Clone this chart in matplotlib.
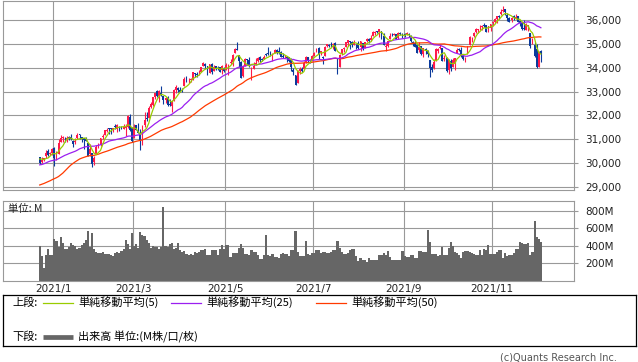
import numpy as np
import pandas as pd
import matplotlib
matplotlib.use("Agg")
import matplotlib.pyplot as plt
from matplotlib.ticker import FuncFormatter

# ---- data (DJIA Dec 2020 - Dec 2021) ----
holidays = ["2020-12-25", "2021-01-01", "2021-01-18", "2021-02-15", "2021-04-02",
            "2021-05-31", "2021-07-05", "2021-09-06", "2021-11-25"]

# closes before the first candle, only used to warm up the moving averages
warmup_close = [28680, 28515, 28494, 28606, 28195, 28309, 28211, 28364, 28336, 27685,
                27463, 26520, 26660, 26502, 26925, 27481, 27848, 28390, 28323, 29158,
                29421, 29398, 29080, 29480, 29950, 29784, 29438, 29483, 29263, 29591,
                30046, 29873, 29910, 29638, 29824, 29883, 29970, 30218, 30070, 30174,
                30068, 29999, 30046, 29861, 30200, 30155, 30304, 30179, 30216]

open_ = [30240, 30050, 30150, 30280, 30490, 30380, 30420, 30630, 30200, 30390,
         30900, 31070, 31010, 31020, 31080, 31090, 30920, 30880, 31060, 31220,
         31100, 31060, 31000, 30860, 30400, 30430, 30050, 30380, 30710, 30780,
         31080, 31180, 31330, 31460, 31480, 31390, 31540, 31440, 31510, 31530,
         31450, 31460, 31510, 31920, 31470, 31070, 31580, 31390, 31250, 31000,
         31580, 31900, 31910, 32350, 32450, 32760, 33030, 32830, 32930, 32800,
         32650, 32720, 32480, 32390, 32660, 33080, 33140, 33080, 33070, 33220,
         33530, 33440, 33500, 33500, 33750, 33750, 33720, 33820, 34080, 34150,
         34060, 33790, 34140, 33860, 34060, 34000, 34010, 33900, 33970, 33900,
         34100, 34200, 34220, 34610, 34780, 34540, 34250, 33640, 34070, 34360,
         34340, 33800, 33960, 34140, 34280, 34440, 34370, 34370, 34560, 34610,
         34620, 34550, 34620, 34760, 34700, 34640, 34510, 34480, 34460, 34440,
         34310, 33910, 33700, 33360, 33860, 33960, 33960, 34220, 34450, 34320,
         34270, 34510, 34690, 34820, 34600, 34440, 34510, 34900, 34960, 34940,
         34960, 35030, 34400, 34030, 34560, 34800, 34880, 35050, 35140, 35080,
         34970, 34950, 35030, 34860, 35050, 34840, 35100, 35220, 35150, 35320,
         35450, 35520, 35490, 35520, 35340, 34860, 34890, 35190, 35370, 35390,
         35400, 35260, 35470, 35400, 35410, 35360, 35410, 35340, 35090, 35050,
         34950, 34730, 34900, 34590, 34800, 34710, 34320, 34050, 33980, 34300,
         34700, 34820, 34820, 34370, 34420, 33890, 34270, 34010, 34160, 34600,
         34770, 34740, 34500, 34350, 34560, 34970, 35240, 35310, 35480, 35560,
         35660, 35700, 35790, 35790, 35570, 35680, 35860, 35910, 36050, 36180,
         36260, 36380, 36460, 36200, 36090, 35980, 36150, 36080, 36160, 35940,
         35880, 35670, 35600, 35760, 35450, 35100, 34950, 34770, 34030, 34700]

high = [30240, 30240, 30210, 30530, 30600, 30480, 30640, 30670, 30500, 31020,
        31190, 31140, 31100, 31150, 31150, 31220, 30990, 31040, 31270, 31230,
        31100, 31060, 31110, 30860, 30820, 30430, 30300, 30740, 30850, 31060,
        31210, 31390, 31470, 31460, 31480, 31460, 31640, 31620, 31550, 31570,
        31650, 31640, 32010, 32040, 31520, 31630, 31600, 31700, 31450, 31590,
        32150, 32150, 32390, 32560, 32790, 32960, 33050, 33050, 33230, 32800,
        32770, 32800, 32700, 32640, 33100, 33260, 33190, 33180, 33170, 33620,
        33640, 33550, 33560, 33810, 33790, 33810, 33910, 34050, 34260, 34180,
        34080, 34170, 34210, 34130, 34090, 34070, 34030, 34100, 34040, 34200,
        34140, 34380, 34570, 34810, 35090, 34550, 34280, 34110, 34400, 34380,
        34460, 34020, 34250, 34400, 34450, 34470, 34420, 34520, 34630, 34850,
        34690, 34600, 34800, 34770, 34850, 34690, 34610, 34550, 34470, 34450,
        34400, 34000, 33700, 33900, 34050, 34010, 34270, 34480, 34460, 34380,
        34530, 34660, 34810, 34850, 34720, 34480, 34890, 35000, 35000, 35060,
        35020, 35090, 34400, 34590, 34800, 34880, 35080, 35150, 35140, 35100,
        35170, 35000, 35100, 35130, 35050, 35070, 35250, 35240, 35390, 35520,
        35520, 35550, 35630, 35520, 35440, 35020, 35140, 35450, 35440, 35440,
        35410, 35510, 35500, 35440, 35450, 35510, 35440, 35360, 35120, 35140,
        35000, 35090, 34930, 34830, 34810, 34730, 34320, 34170, 34360, 34820,
        34820, 35010, 34820, 34540, 34440, 34380, 34380, 34420, 34420, 34840,
        34840, 34860, 34590, 34450, 34930, 35310, 35290, 35500, 35670, 35640,
        35770, 35800, 35890, 35800, 35740, 35820, 35950, 36070, 36170, 36220,
        36470, 36570, 36460, 36300, 36110, 36120, 36190, 36260, 36160, 35990,
        35910, 35980, 35870, 35810, 35450, 35250, 35060, 35000, 34700, 34750]

low = [29950, 30020, 30110, 30230, 30290, 30330, 30360, 29880, 30140, 30390,
       30870, 30900, 30900, 30870, 30990, 30990, 30690, 30810, 31000, 31030,
       30870, 30600, 30910, 30280, 30320, 29850, 29930, 30380, 30630, 30730,
       31030, 31160, 31310, 31240, 31230, 31290, 31440, 31300, 31340, 31420,
       31420, 31130, 31480, 31350, 30870, 31070, 31370, 31260, 30550, 30780,
       31530, 31780, 31900, 32300, 32400, 32670, 32770, 32580, 32800, 32480,
       32530, 32400, 32400, 32160, 32600, 32950, 32990, 32970, 32990, 33220,
       33400, 33370, 33380, 33480, 33600, 33590, 33710, 33820, 34060, 33950,
       33680, 33780, 33750, 33860, 33900, 33920, 33800, 33720, 33810, 33890,
       33700, 34150, 34080, 34600, 34730, 34050, 33580, 33610, 34060, 34130,
       34030, 33470, 33940, 34130, 34250, 34230, 34280, 34360, 34510, 34540,
       34500, 34300, 34620, 34560, 34560, 34440, 34400, 34400, 34220, 34230,
       33880, 33690, 33270, 33360, 33730, 33820, 33960, 34210, 34240, 34210,
       34270, 34510, 34640, 34350, 34550, 34150, 34510, 34860, 34850, 34860,
       34790, 34680, 33740, 34010, 34520, 34650, 34870, 34900, 34800, 34850,
       34970, 34800, 34800, 34700, 34760, 34810, 35080, 35040, 35120, 35310,
       35390, 35470, 35300, 35200, 34960, 34690, 34870, 35190, 35310, 35350,
       35200, 35220, 35370, 35260, 35290, 35350, 35300, 35070, 34900, 34870,
       34600, 34650, 34540, 34460, 34590, 34440, 33610, 33840, 33940, 34300,
       34630, 34790, 34270, 34300, 33840, 33720, 33880, 34010, 33900, 34600,
       34720, 34460, 34330, 34240, 34560, 34970, 35090, 35270, 35470, 35450,
       35580, 35580, 35700, 35490, 35500, 35540, 35760, 35890, 35880, 36040,
       36190, 36340, 36210, 35960, 35920, 35900, 36000, 36050, 35920, 35750,
       35570, 35600, 35580, 35530, 34820, 35000, 34460, 33990, 34010, 34230]

close = [30015, 30129, 30200, 30404, 30336, 30409, 30606, 30223, 30392, 30829,
         31041, 31098, 31009, 31069, 31061, 30991, 30814, 30930, 31188, 31176,
         30997, 30960, 30937, 30303, 30603, 29983, 30212, 30688, 30724, 31056,
         31148, 31386, 31375, 31438, 31431, 31458, 31523, 31613, 31494, 31494,
         31522, 31537, 31962, 31402, 30932, 31535, 31391, 31270, 30924, 31496,
         31802, 31833, 32297, 32485, 32779, 32953, 32826, 33015, 32862, 32628,
         32731, 32423, 32420, 32619, 33072, 33171, 33067, 32982, 33054, 33527,
         33430, 33446, 33504, 33801, 33746, 33677, 33730, 34036, 34200, 34078,
         33821, 34137, 33815, 34043, 33982, 33985, 33820, 34060, 33875, 34113,
         34133, 34230, 34548, 34778, 34743, 34270, 33587, 34021, 34382, 34327,
         34061, 33896, 34084, 34208, 34394, 34313, 34323, 34465, 34529, 34575,
         34600, 34577, 34756, 34630, 34600, 34447, 34467, 34480, 34394, 34299,
         34033, 33823, 33290, 33877, 33945, 33874, 34196, 34433, 34283, 34292,
         34503, 34634, 34786, 34577, 34681, 34422, 34870, 34996, 34889, 34933,
         34987, 34688, 33962, 34512, 34798, 34823, 35062, 35144, 35059, 34931,
         35085, 34935, 34838, 35117, 34793, 35065, 35209, 35102, 35265, 35485,
         35500, 35516, 35626, 35343, 34961, 34894, 35120, 35336, 35367, 35406,
         35214, 35456, 35400, 35361, 35313, 35444, 35369, 35100, 35032, 34879,
         34608, 34870, 34578, 34814, 34751, 34585, 33970, 33919, 34258, 34765,
         34798, 34870, 34300, 34390, 33844, 34326, 34003, 34315, 34417, 34755,
         34746, 34496, 34378, 34377, 34912, 35295, 35259, 35458, 35609, 35603,
         35677, 35741, 35757, 35491, 35731, 35820, 35913, 36053, 36158, 36124,
         36328, 36432, 36320, 36080, 35921, 36100, 36087, 36143, 35931, 35871,
         35602, 35620, 35814, 35804, 34899, 35136, 34484, 34022, 34640, 34580]

volume = [400, 285, 145, 300, 360, 300, 300, 475, 460, 390,
          500, 430, 370, 370, 390, 430, 410, 400, 370, 375,
          410, 430, 470, 570, 390, 545, 360, 330, 320, 320,
          330, 310, 310, 310, 300, 290, 320, 330, 320, 340,
          360, 470, 420, 360, 545, 400, 420, 380, 565, 530,
          510, 470, 430, 380, 400, 390, 390, 370, 390, 850,
          400, 390, 420, 430, 370, 380, 430, 350, 330, 340,
          310, 300, 310, 300, 330, 320, 330, 355, 355, 360,
          297, 297, 355, 355, 355, 297, 360, 410, 360, 410,
          410, 270, 320, 320, 320, 375, 420, 375, 310, 310,
          300, 355, 335, 335, 297, 250, 255, 295, 525, 297,
          285, 305, 270, 270, 265, 310, 315, 310, 305, 280,
          355, 355, 570, 335, 285, 280, 280, 455, 305, 300,
          320, 320, 355, 355, 325, 335, 335, 320, 320, 335,
          355, 355, 455, 375, 335, 305, 305, 325, 355, 360,
          360, 285, 230, 260, 240, 240, 220, 260, 240, 240,
          240, 240, 297, 300, 325, 300, 345, 270, 245, 240,
          240, 245, 245, 345, 280, 270, 270, 297, 297, 260,
          260, 345, 345, 330, 330, 583, 450, 310, 310, 310,
          280, 297, 390, 297, 297, 375, 440, 400, 330, 320,
          297, 260, 335, 345, 345, 335, 325, 310, 297, 300,
          355, 297, 360, 355, 410, 305, 310, 310, 335, 355,
          355, 265, 315, 290, 297, 297, 315, 365, 370, 450,
          430, 425, 425, 430, 297, 335, 686, 507, 480, 450]

label_months = [1, 3, 5, 7, 9, 11]

# ---- styling ----
UP = "#ff1a4a"
DOWN = "#0a3a9c"
GRID = "#999999"
JP = ["Noto Sans CJK JP", "DejaVu Sans"]

dates = pd.bdate_range("2020-12-22", "2021-12-03", freq="C", holidays=holidays)
x = np.arange(len(close))
o = np.array(open_, float)
h = np.array(high, float)
l = np.array(low, float)
c = np.array(close, float)

full = pd.Series(warmup_close + close, dtype=float)
nw = len(warmup_close)
ma5 = full.rolling(5).mean().to_numpy()[nw:]
ma25 = full.rolling(25).mean().to_numpy()[nw:]
ma50 = full.rolling(50).mean().to_numpy()[nw:]

month_pos = []
for m in label_months:
    i = next(k for k, d in enumerate(dates) if d.year == 2021 and d.month == m)
    month_pos.append(i - 0.5)
month_lbl = [f"2021/{m}" for m in label_months]

W, H = 638, 362
fig = plt.figure(figsize=(W / 100, H / 100), dpi=100)


def px_axes(left, top, right, bottom):
    return fig.add_axes([left / W, 1 - bottom / H, (right - left) / W, (bottom - top) / H])


xlim = (-17.5, 254.8)

# ---- upper panel: candles + moving averages ----
ax1 = px_axes(3, 0.5, 574, 190)
cols = np.where(c >= o, UP, DOWN)
ax1.vlines(x, l, h, colors=cols, lw=0.8, zorder=2)
ax1.bar(x, np.maximum(np.abs(c - o), 15), bottom=np.minimum(o, c), width=0.9,
        color=cols, lw=0, zorder=3)
ax1.plot(x, ma50, color="#ff3a00", lw=0.9, zorder=4)
ax1.plot(x, ma25, color="#9b1ff0", lw=0.9, zorder=5)
ax1.plot(x, ma5, color="#99cc00", lw=0.9, zorder=6)
ax1.set_xlim(*xlim)
ax1.set_ylim(28874, 36817)
ax1.set_yticks(np.arange(29000, 36001, 1000))
ax1.yaxis.set_major_formatter(FuncFormatter(lambda v, p: f"{v:,.0f}"))

# ---- lower panel: volume ----
ax2 = px_axes(3, 201, 574, 281)
ax2.bar(x, volume, width=1.0, color="#666666", lw=0, zorder=2)
ax2.set_xlim(*xlim)
ax2.set_ylim(0, 914)
ax2.set_yticks([200, 400, 600, 800])
ax2.yaxis.set_major_formatter(FuncFormatter(lambda v, p: f"{v:.0f}M"))

for ax in (ax1, ax2):
    ax.set_axisbelow(True)
    ax.yaxis.tick_right()
    ax.set_xticks(month_pos)
    ax.grid(True, color=GRID, lw=0.8)
    ax.tick_params(axis="y", length=3, width=0.8, color=GRID, pad=5,
                   labelsize=7.5, labelcolor="#222222")
    ax.tick_params(axis="x", length=0, pad=2, labelsize=7.5, labelcolor="#222222")
    for s in ax.spines.values():
        s.set_color(GRID)
        s.set_linewidth(0.8)
ax1.tick_params(axis="x", labelbottom=False)
ax2.set_xticklabels(month_lbl)

fig.text(8 / W, 1 - 209 / H, "単位: M", family=JP, fontsize=7.5, va="center",
         color="#222222")

# ---- legend box ----
axl = px_axes(3, 295, 636, 346)
axl.set_xlim(0, 633)
axl.set_ylim(51, 0)
axl.set_xticks([])
axl.set_yticks([])
for s in axl.spines.values():
    s.set_color("black")
    s.set_linewidth(0.9)

y_up, y_dn = 7.5, 42
axl.text(9, y_up, "上段:", family=JP, fontsize=8, va="center")
for x0, col, lbl in [(40, "#99cc00", "単純移動平均(5)"),
                     (168, "#9b1ff0", "単純移動平均(25)"),
                     (313, "#ff3a00", "単純移動平均(50)")]:
    axl.plot([x0, x0 + 30], [y_up, y_up], color=col, lw=0.9)
    axl.text(x0 + 35, y_up, lbl, family=JP, fontsize=8, va="center")
axl.text(9, y_dn, "下段:", family=JP, fontsize=8, va="center")
axl.plot([40, 70], [y_dn, y_dn], color="#666666", lw=3.4, solid_capstyle="butt")
axl.text(75, y_dn, "出来高 単位:(M株/口/枚)", family=JP, fontsize=8, va="center")

fig.text(617 / W, 1 - 357 / H, "(c)Quants Research Inc.", fontsize=7, ha="right",
         va="center", color="#555555")

fig.savefig("out.png", dpi=100)
